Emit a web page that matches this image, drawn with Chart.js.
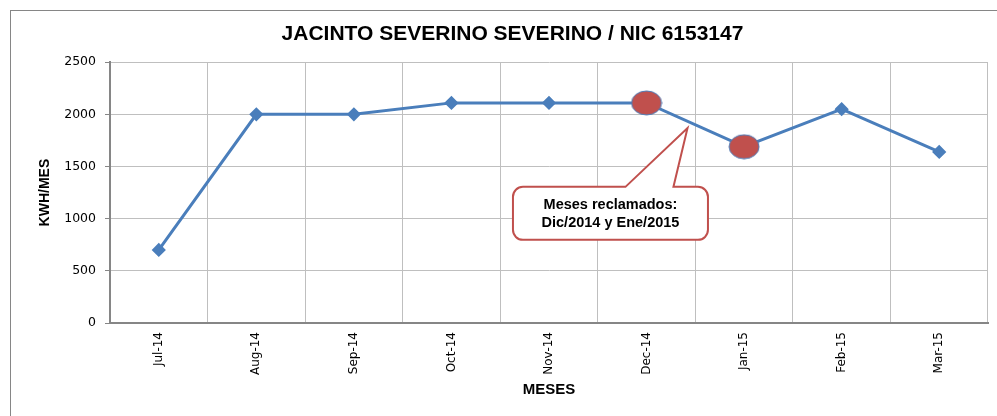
<!DOCTYPE html>
<html>
<head>
<meta charset="utf-8">
<script src="https://cdn.jsdelivr.net/npm/chart.js@4.4.0/dist/chart.umd.min.js"></script>
<style>
  html, body { margin: 0; padding: 0; background: #fff; }
  #wrap { width: 997px; height: 416px; position: relative; }
</style>
</head>
<body>
<div id="wrap"><canvas id="grafico" width="997" height="416"></canvas></div>
<script>
// datos
const meses = ['Jul-14', 'Aug-14', 'Sep-14', 'Oct-14', 'Nov-14', 'Dec-14', 'Jan-15', 'Feb-15', 'Mar-15'];
const consumo = [700, 2000, 2000, 2110, 2110, 2110, 1690, 2050, 1640];
const reclamados = ['Dec-14', 'Jan-15'];
const ticksY = [0, 500, 1000, 1500, 2000, 2500];
const textoNota = ['Meses reclamados:', 'Dic/2014 y Ene/2015'];

const AZUL = '#4a7ebb';
const ROJO = '#c0504d';
const FUENTE = '"Liberation Sans", Arial, sans-serif';
const FUENTE_EJES = '"DejaVu Sans", Verdana, sans-serif';

// marcador eliptico rojo para los meses reclamados
function crearElipse() {
    const c = document.createElement('canvas');
    c.width = 32; c.height = 26;
    const g = c.getContext('2d');
    g.beginPath();
    g.ellipse(16, 13, 15, 12, 0, 0, Math.PI * 2);
    g.fillStyle = ROJO;
    g.fill();
    g.lineWidth = 1;
    g.strokeStyle = AZUL;
    g.stroke();
    return c;
}
const elipse = crearElipse();

const estilos = meses.map(m => reclamados.includes(m) ? elipse : 'rectRot');
const radios = meses.map(m => reclamados.includes(m) ? 15 : 5);

// borde exterior + nota
const extras = {
    id: 'extras',
    beforeDraw(chart) {
        const ctx = chart.ctx;
        ctx.save();
        ctx.fillStyle = '#fff';
        ctx.fillRect(0, 0, chart.width, chart.height);
        ctx.strokeStyle = '#868686';
        ctx.lineWidth = 1;
        ctx.strokeRect(10.5, 10.5, 1000, 420);
        ctx.restore();
    },
    afterDatasetsDraw(chart) {
        const ctx = chart.ctx;
        const x = chart.scales.x, y = chart.scales.y;
        const punta = { x: x.getPixelForValue(5.42), y: y.getPixelForValue(1870) };
        const cx = x.getPixelForValue(4.63);
        const w = 195, h = 53, r = 10;
        const left = cx - w / 2, top = y.getPixelForValue(1305);
        const b1 = cx + 15, b2 = cx + 63;

        ctx.save();
        ctx.beginPath();
        ctx.moveTo(left + r, top);
        ctx.lineTo(b1, top);
        ctx.lineTo(punta.x, punta.y);
        ctx.lineTo(b2, top);
        ctx.lineTo(left + w - r, top);
        ctx.arcTo(left + w, top, left + w, top + r, r);
        ctx.lineTo(left + w, top + h - r);
        ctx.arcTo(left + w, top + h, left + w - r, top + h, r);
        ctx.lineTo(left + r, top + h);
        ctx.arcTo(left, top + h, left, top + h - r, r);
        ctx.lineTo(left, top + r);
        ctx.arcTo(left, top, left + r, top, r);
        ctx.closePath();
        ctx.fillStyle = '#fff';
        ctx.fill();
        ctx.lineWidth = 2;
        ctx.strokeStyle = ROJO;
        ctx.stroke();

        ctx.fillStyle = '#000';
        ctx.font = 'bold 14.5px ' + FUENTE;
        ctx.textAlign = 'center';
        ctx.textBaseline = 'middle';
        ctx.fillText(textoNota[0], cx, top + 18);
        ctx.fillText(textoNota[1], cx, top + 36);
        ctx.restore();
    }
};

const ctx = document.getElementById('grafico').getContext('2d');
new Chart(ctx, {
    type: 'line',
    data: {
        labels: meses,
        datasets: [{
            label: 'KWH/MES',
            data: consumo,
            borderColor: AZUL,
            backgroundColor: AZUL,
            borderWidth: 3,
            tension: 0,
            pointStyle: estilos,
            pointRadius: radios,
            pointHoverRadius: radios,
            pointBackgroundColor: AZUL,
            pointBorderColor: AZUL
        }]
    },
    options: {
        responsive: false,
        animation: false,
        events: [],
        layout: { padding: { left: 37, right: 9, top: 0, bottom: 8 } },
        plugins: {
            legend: { display: false },
            tooltip: { enabled: false },
            title: {
                display: true,
                text: 'JACINTO SEVERINO SEVERINO / NIC 6153147',
                color: '#000',
                font: { family: FUENTE, size: 21, weight: 'bold' },
                padding: { top: 22, bottom: 15 }
            }
        },
        scales: {
            x: {
                offset: true,
                grid: { offset: true, color: '#bfbfbf', lineWidth: 1, drawTicks: false },
                border: { color: '#868686', width: 2 },
                ticks: {
                    color: '#000',
                    font: { family: FUENTE_EJES, size: 12 },
                    minRotation: 90,
                    maxRotation: 90,
                    padding: 9,
                    autoSkip: false
                },
                title: {
                    display: true,
                    text: 'MESES',
                    color: '#000',
                    font: { family: FUENTE, size: 15, weight: 'bold' },
                    padding: { top: 0, bottom: 9 }
                },
                afterFit(scale) { scale.height = 85; }
            },
            y: {
                min: 0,
                max: 2500,
                afterBuildTicks(scale) { scale.ticks = ticksY.map(v => ({ value: v })); },
                grid: { color: '#bfbfbf', lineWidth: 1, tickLength: 5, tickColor: '#868686' },
                border: { color: '#868686', width: 2 },
                ticks: {
                    color: '#000',
                    font: { family: FUENTE_EJES, size: 12.5 },
                    padding: 9,
                    callback: v => String(v)
                },
                title: {
                    display: true,
                    text: 'KWH/MES',
                    color: '#000',
                    font: { family: FUENTE, size: 14, weight: 'bold' },
                    padding: { top: 0, bottom: 0 }
                },
                afterFit(scale) { scale.width = 73; }
            }
        }
    },
    plugins: [extras]
});
</script>
</body>
</html>
